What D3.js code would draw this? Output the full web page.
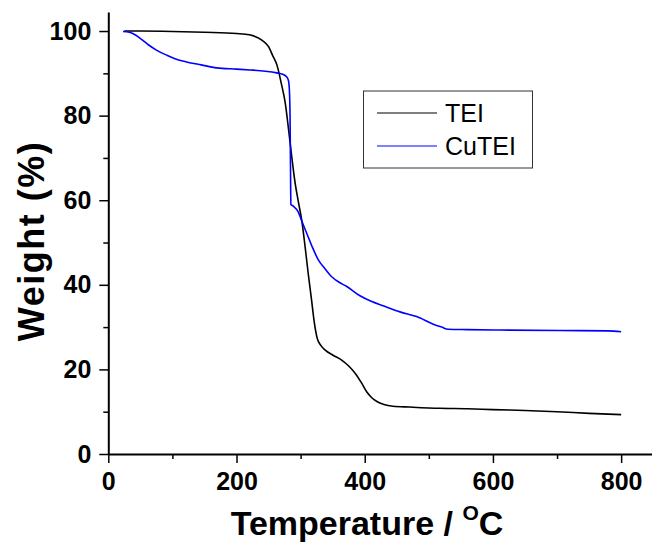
<!DOCTYPE html>
<html>
<head>
<meta charset="utf-8">
<script src="https://cdn.jsdelivr.net/npm/d3@7"></script>
<style>
  body { margin: 0; background: #fff; }
  .tick text { font-family: Arial, "Liberation Sans", sans-serif; font-weight: bold; }
</style>
</head>
<body>
<div class="tga_chart"></div>
<script>
// TGA data: [temperature (C), weight (%)]
var teiTemp = [25, 50, 100, 150, 200, 220, 240, 250, 257, 263, 270, 276, 281, 286, 291, 296, 302, 307, 312, 317, 321, 326, 331, 338, 350, 364, 375, 385, 395, 403, 411, 419, 430, 444, 470, 517, 560, 600, 650, 700, 750, 800];
var teiWeight = [100, 100, 99.9, 99.7, 99.4, 99.1, 97.8, 96.3, 94, 92, 87.5, 83, 77, 70.5, 64.5, 60, 55, 49, 42.5, 36.5, 31.5, 27.3, 25.8, 24.6, 23.4, 22.2, 20.8, 19.1, 16.8, 14.7, 13.3, 12.4, 11.7, 11.3, 11.1, 10.8, 10.7, 10.5, 10.3, 10.0, 9.6, 9.3];

var cutTemp = [23, 33, 43, 53, 63, 75, 91, 105, 122, 145, 169, 200, 221, 245, 263, 272, 278, 281, 282.5, 283.5, 284.2, 284.8, 288.6, 296, 302, 309.5, 318, 327.6, 338, 348.5, 360, 372, 392.6, 410, 430, 455, 481, 507, 520, 530, 560, 611, 705, 780, 800];
var cutWeight = [99.9, 99.7, 99, 97.9, 96.7, 95.5, 94.3, 93.4, 92.7, 92, 91.3, 91, 90.8, 90.5, 90.1, 89.8, 89.2, 88.3, 86, 80, 68, 59, 58.6, 57.3, 55, 52.2, 49, 45.9, 43.8, 41.9, 40.6, 39.6, 37.4, 36.1, 35, 33.6, 32.5, 30.7, 30, 29.5, 29.4, 29.3, 29.2, 29.1, 28.9];

var seriesNames = ["TEI", "CuTEI"];
var seriesColors = ["#000000", "#0000ff"];

var xMajorTicks = [0, 200, 400, 600, 800];
var xMinorTicks = [100, 300, 500, 700];
var yMajorTicks = [0, 20, 40, 60, 80, 100];
var yMinorTicks = [10, 30, 50, 70, 90];

var svgWidth = 652;
var svgHeight = 543;

var svg = d3.select(".tga_chart")
  .append("svg")
  .attr("width", svgWidth)
  .attr("height", svgHeight)
  .style("display", "block");

var xScale = d3.scaleLinear()
  .domain([0, 850])
  .range([108.3, 653.2]);

var yScale = d3.scaleLinear()
  .domain([0, 104.5])
  .range([454, 12]);

// minor ticks first, majors drawn on top
svg.append("g")
  .attr("transform", "translate(0,454)")
  .call(d3.axisBottom(xScale).tickValues(xMinorTicks).tickSize(5).tickFormat(""))
  .call(g => g.select(".domain").remove())
  .selectAll("line").attr("stroke-width", 1.5);

svg.append("g")
  .attr("transform", "translate(108.3,0)")
  .call(d3.axisLeft(yScale).tickValues(yMinorTicks).tickSize(5).tickFormat(""))
  .call(g => g.select(".domain").remove())
  .selectAll("line").attr("stroke-width", 1.5);

var xAxis = svg.append("g")
  .attr("transform", "translate(0,454)")
  .call(d3.axisBottom(xScale).tickValues(xMajorTicks).tickSize(9).tickSizeOuter(0).tickPadding(9));

xAxis.select(".domain").attr("stroke-width", 2);
xAxis.selectAll("line").attr("stroke-width", 1.5);
xAxis.selectAll("text").style("font-size", "25px").attr("fill", "#000");

var yAxis = svg.append("g")
  .attr("transform", "translate(108.3,0)")
  .call(d3.axisLeft(yScale).tickValues(yMajorTicks).tickSize(9).tickSizeOuter(0).tickPadding(8));

yAxis.select(".domain").attr("stroke-width", 2);
yAxis.selectAll("line").attr("stroke-width", 1.5);
yAxis.selectAll("text").style("font-size", "25px").attr("fill", "#000");

// the two curves
var line = d3.line()
  .x(d => xScale(d[0]))
  .y(d => yScale(d[1]))
  .curve(d3.curveMonotoneX);

var teiData = teiTemp.map((t, i) => [t, teiWeight[i]]);
var cutData = cutTemp.map((t, i) => [t, cutWeight[i]]);

svg.append("path")
  .datum(teiData)
  .attr("fill", "none")
  .attr("stroke", seriesColors[0])
  .attr("stroke-width", 1.6)
  .attr("d", line);

svg.append("path")
  .datum(cutData)
  .attr("fill", "none")
  .attr("stroke", seriesColors[1])
  .attr("stroke-width", 1.6)
  .attr("d", line);

// legend
var legend = svg.append("g");

legend.append("rect")
  .attr("x", 363.5)
  .attr("y", 91)
  .attr("width", 169)
  .attr("height", 77)
  .attr("fill", "none")
  .attr("stroke", "#333")
  .attr("stroke-width", 1);

seriesNames.forEach(function (name, i) {
  var ly = 113 + i * 33;
  legend.append("line")
    .attr("x1", 377)
    .attr("x2", 437)
    .attr("y1", ly)
    .attr("y2", ly)
    .attr("stroke", seriesColors[i])
    .attr("stroke-width", 1.2);
  legend.append("text")
    .attr("x", 445)
    .attr("y", ly + 9)
    .style("font-family", "Arial, 'Liberation Sans', sans-serif")
    .style("font-size", "25px")
    .text(name);
});

// axis titles
var xTitle = svg.append("text")
  .attr("x", 367)
  .attr("y", 535)
  .attr("text-anchor", "middle")
  .style("font-family", "Arial, 'Liberation Sans', sans-serif")
  .style("font-weight", "bold")
  .style("font-size", "34px")
  .text("Temperature / ");

xTitle.append("tspan")
  .attr("dy", -15)
  .style("font-size", "21px")
  .text("O");

xTitle.append("tspan")
  .attr("dy", 15)
  .text("C");

svg.append("text")
  .attr("transform", "translate(44,241) rotate(-90)")
  .attr("text-anchor", "middle")
  .style("font-family", "Arial, 'Liberation Sans', sans-serif")
  .style("font-weight", "bold")
  .style("font-size", "36px")
  .style("letter-spacing", "1.5px")
  .text("Weight (%)");
</script>
</body>
</html>
